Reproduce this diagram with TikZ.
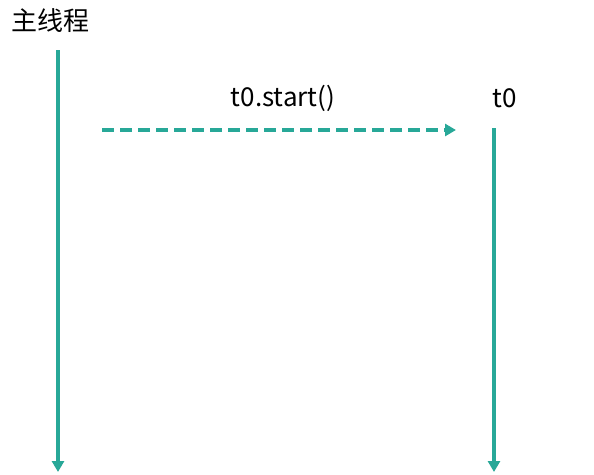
\documentclass[tikz,border=0pt]{standalone}
\usepackage{fontspec}
\setmainfont{Noto Sans CJK SC}
\usetikzlibrary{positioning, arrows.meta}
\definecolor{lineteal}{RGB}{40,168,152}

\begin{document}
\begin{tikzpicture}[x=1pt, y=-1pt,
    life/.style={draw=lineteal, line width=3.2pt, -{Triangle[length=11pt, width=12pt]}},
    call/.style={draw=lineteal, line width=3.2pt, dash pattern=on 12pt off 6pt, -{Triangle[length=11pt, width=12pt]}},
    lbl/.style={inner sep=0pt, font=\fontsize{26}{28}\selectfont}]
    \useasboundingbox (0,0) rectangle (594,474);
    \node[lbl] (main) at (50, 21) {主线程};
    \node[lbl] (startlbl) at (283, 98) {t0.start()};
    \node[lbl] (t0) at (505, 98) {t0};
    \coordinate (mainTop) at (58, 50);
    \coordinate (mainEnd) at (58, 472);
    \coordinate (tTop) at (494, 128);
    \coordinate (tEnd) at (494, 472);
    \coordinate (callFrom) at (102, 130);
    \coordinate (callTo) at (456, 130);
    \draw[life] (mainTop) -- (mainEnd);
    \draw[life] (tTop) -- (tEnd);
    \draw[call] (callFrom) -- (callTo);
\end{tikzpicture}
\end{document}
